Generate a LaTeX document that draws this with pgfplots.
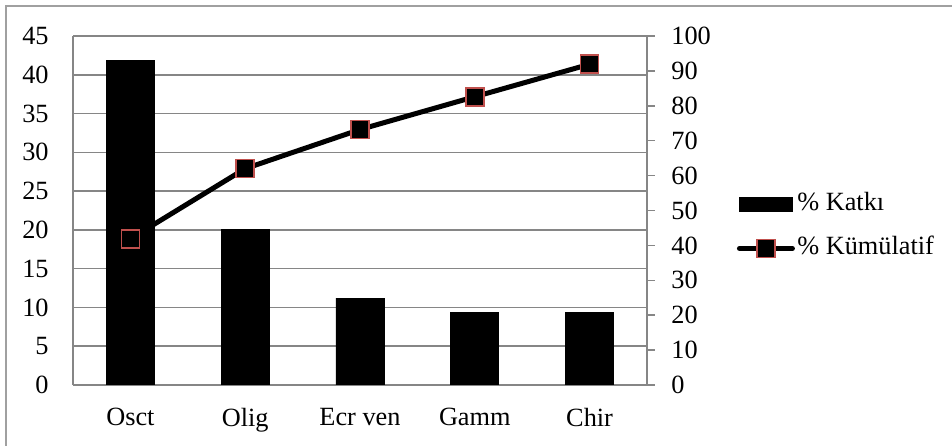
\documentclass[border=0pt]{standalone}
\usepackage{fontspec}
\setmainfont{Liberation Serif}
\usepackage{pgfplots}
\usepackage{pgfplotstable}
\pgfplotsset{compat=1.18}
\definecolor{gridgray}{RGB}{134,134,134}
\definecolor{mkred}{RGB}{192,80,77}
\definecolor{framegray}{RGB}{160,160,160}

\pgfplotstableread{
x pct cum
0 41.9 41.9
1 20.1 62.0
2 11.2 73.2
3 9.4 82.6
4 9.3 91.9
}\datatable

\begin{document}
\begin{tikzpicture}
\useasboundingbox (0,0) rectangle (476bp,223bp);
\draw[framegray, line width=0.7bp] (3bp,-5bp) -- (3bp,220bp) -- (480bp,220bp);
\begin{axis}[
 at={(36.5bp,30.5bp)}, anchor=south west, scale only axis,
 width=287bp, height=174.5bp,
 xmin=-0.5, xmax=4.5, ymin=0, ymax=45, ytick={0,5,...,45},
 xtick=data, xticklabels={Osct,Olig,Ecr ven,Gamm,Chir},
 axis x line*=bottom, axis y line*=left,
 axis line style={gridgray, line width=0.75bp},
 ymajorgrids, grid style={gridgray, line width=0.75bp},
 major tick length=0pt,
 tick label style={font=\fontsize{13.2}{15.8}\selectfont, inner sep=0pt},
 yticklabel style={xshift=-12bp},
 xticklabel style={yshift=-11.5bp},
 /pgf/number format/assume math mode=true,
]
\addplot[ybar, bar width=24bp, fill=black, draw=black, bar shift=0pt] table[x=x,y=pct]{\datatable};
\end{axis}
\begin{axis}[
 at={(36.5bp,30.5bp)}, anchor=south west, scale only axis,
 width=287bp, height=174.5bp,
 xmin=-0.5, xmax=4.5, ymin=0, ymax=100, ytick={0,10,...,100},
 axis x line=none, axis y line*=right,
 axis line style={gridgray, line width=0.75bp},
 ytick style={gridgray, line width=0.75bp},
 major tick length=4bp, tick align=outside,
 tick label style={font=\fontsize{13.2}{15.8}\selectfont, inner sep=0pt},
 yticklabel style={xshift=8bp},
 /pgf/number format/assume math mode=true,
 legend style={draw=none, fill=none, at={(1.156,0.454)}, anchor=west,
   font=\fontsize{13.2}{15.8}\selectfont, inner sep=0pt,
   row sep=7.5bp, column sep=0pt,
   nodes={inner sep=1.2bp, text height=9bp, text depth=3bp}},
 legend cell align=left,
]
\addlegendimage{legend image code/.code={\fill[black] (0bp,-3.5bp) rectangle (26.5bp,3.5bp);}}
\addlegendentry{\% Katkı}
\addplot[black, line width=2.5bp, line cap=round, mark=square*, mark size=4.5bp,
  mark options={fill=black, draw=mkred, line width=0.8bp},
  legend image code/.code={\draw[mark repeat=2,mark phase=2] plot coordinates {(0bp,0bp) (13.25bp,0bp) (26.5bp,0bp)};}
  ] table[x=x,y=cum]{\datatable};
\addlegendentry{\% Kümülatif}
\end{axis}
\end{tikzpicture}
\end{document}
